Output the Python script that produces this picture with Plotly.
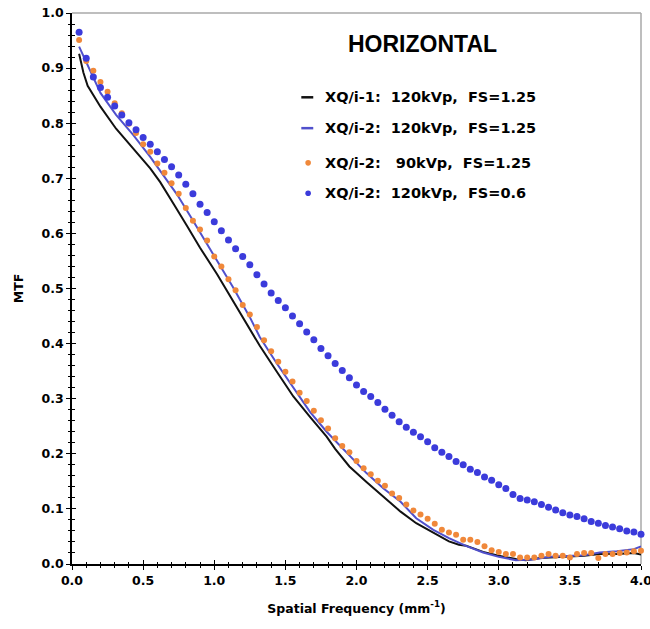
import plotly.graph_objects as go

# --- Measured MTF curves (horizontal direction) ---
# Sampled markers: spatial frequency grid 0.05 .. 4.00 mm^-1
freq_dots = [round(0.05 * i, 2) for i in range(1, 81)]

mtf_i2_90kvp = [
    0.951, 0.913, 0.895, 0.875, 0.857, 0.836, 0.818, 0.799, 0.782, 0.762,
    0.748, 0.727, 0.710, 0.691, 0.672, 0.646, 0.623, 0.607, 0.587, 0.558,
    0.540, 0.517, 0.497, 0.470, 0.453, 0.430, 0.406, 0.386, 0.367, 0.349,
    0.331, 0.311, 0.296, 0.278, 0.261, 0.246, 0.228, 0.214, 0.203, 0.187,
    0.174, 0.163, 0.151, 0.142, 0.128, 0.120, 0.108, 0.097, 0.090, 0.082,
    0.073, 0.062, 0.057, 0.053, 0.044, 0.044, 0.040, 0.032, 0.025, 0.022,
    0.018, 0.018, 0.012, 0.012, 0.012, 0.015, 0.018, 0.015, 0.015, 0.012,
    0.018, 0.020, 0.020, 0.011, 0.018, 0.018, 0.020, 0.021, 0.023, 0.024,
]

mtf_i2_fs06 = [
    0.965, 0.918, 0.884, 0.865, 0.847, 0.831, 0.815, 0.801, 0.788, 0.774,
    0.762, 0.748, 0.734, 0.721, 0.706, 0.689, 0.672, 0.653, 0.638, 0.621,
    0.605, 0.588, 0.572, 0.558, 0.543, 0.525, 0.508, 0.492, 0.478, 0.465,
    0.450, 0.436, 0.421, 0.407, 0.391, 0.378, 0.364, 0.351, 0.338, 0.325,
    0.313, 0.304, 0.293, 0.281, 0.270, 0.258, 0.248, 0.239, 0.231, 0.222,
    0.211, 0.203, 0.195, 0.186, 0.180, 0.172, 0.166, 0.158, 0.152, 0.144,
    0.137, 0.126, 0.119, 0.116, 0.113, 0.108, 0.103, 0.098, 0.093, 0.089,
    0.086, 0.082, 0.077, 0.074, 0.070, 0.067, 0.064, 0.060, 0.058, 0.054,
]

# Continuous curves
freq_i1_120 = [
    0.05, 0.08, 0.11, 0.20, 0.31, 0.43, 0.55, 0.62, 0.67, 0.72, 0.81, 0.90,
    1.02, 1.13, 1.25, 1.32, 1.44, 1.556, 1.673, 1.79, 1.85, 1.95, 2.07, 2.19,
    2.31, 2.42, 2.54, 2.65, 2.72, 2.77, 2.89, 3.00, 3.12, 3.19, 3.29, 3.36,
    3.48, 3.60, 3.71, 3.83, 3.95, 4.00,
]
mtf_i1_120 = [
    0.926, 0.892, 0.868, 0.830, 0.790, 0.754, 0.718, 0.693, 0.673, 0.651, 0.613, 0.574,
    0.526, 0.478, 0.428, 0.396, 0.349, 0.304, 0.267, 0.231, 0.209, 0.177, 0.149, 0.122,
    0.095, 0.074, 0.056, 0.041, 0.035, 0.033, 0.022, 0.015, 0.009, 0.007, 0.011, 0.012,
    0.013, 0.015, 0.018, 0.018, 0.020, 0.017,
]

freq_i2_120 = [
    0.05, 0.10, 0.20, 0.31, 0.43, 0.55, 0.67, 0.74, 0.83, 0.92, 1.02, 1.13,
    1.25, 1.32, 1.44, 1.556, 1.673, 1.79, 1.91, 2.07, 2.19, 2.31, 2.42, 2.54,
    2.65, 2.77, 2.89, 3.00, 3.12, 3.24, 3.36, 3.48, 3.60, 3.71, 3.83, 3.95, 4.00,
]
mtf_i2_120 = [
    0.939, 0.912, 0.855, 0.815, 0.779, 0.739, 0.695, 0.670, 0.632, 0.594, 0.552, 0.503,
    0.448, 0.412, 0.364, 0.319, 0.276, 0.240, 0.208, 0.165, 0.137, 0.113, 0.083, 0.062,
    0.047, 0.033, 0.021, 0.013, 0.007, 0.008, 0.013, 0.015, 0.016, 0.021, 0.023, 0.027, 0.032,
]

x_tick_vals = [0.0, 0.5, 1.0, 1.5, 2.0, 2.5, 3.0, 3.5, 4.0]
x_tick_text = ["0.0", "0.5", "1.0", "1.5", "2.0", "2.5", "3.0", "3.5", "4.0"]
y_tick_vals = [0.0, 0.1, 0.2, 0.3, 0.4, 0.5, 0.6, 0.7, 0.8, 0.9, 1.0]
y_tick_text = ["0.0", "0.1", "0.2", "0.3", "0.4", "0.5", "0.6", "0.7", "0.8", "0.9", "1.0"]

legend_labels = [
    "XQ/i-1:\u00a0\u00a0120kVp,\u00a0\u00a0FS=1.25",
    "XQ/i-2:\u00a0\u00a0120kVp,\u00a0\u00a0FS=1.25",
    "XQ/i-2:\u00a0\u00a0\u00a090kVp,\u00a0\u00a0FS=1.25",
    "XQ/i-2:\u00a0\u00a0120kVp,\u00a0\u00a0FS=0.6",
]

C_BLACK = "#111111"
C_BLUE_LINE = "#5050cc"
C_ORANGE = "#f0883a"
C_BLUE_DOT = "#3b3bdb"

FONT = "DejaVu Sans"

fig = go.Figure()

fig.add_trace(go.Scatter(x=freq_i1_120, y=mtf_i1_120, mode="lines",
                         line=dict(color=C_BLACK, width=2), name=legend_labels[0]))
fig.add_trace(go.Scatter(x=freq_i2_120, y=mtf_i2_120, mode="lines",
                         line=dict(color=C_BLUE_LINE, width=2), name=legend_labels[1]))
fig.add_trace(go.Scatter(x=freq_dots, y=mtf_i2_90kvp, mode="markers",
                         marker=dict(color=C_ORANGE, size=6), cliponaxis=False,
                         name=legend_labels[2]))
fig.add_trace(go.Scatter(x=freq_dots, y=mtf_i2_fs06, mode="markers",
                         marker=dict(color=C_BLUE_DOT, size=7), cliponaxis=False,
                         name=legend_labels[3]))
# helper trace so the overlay axes (inner tick halves) are drawn
fig.add_trace(go.Scatter(x=[0], y=[0], xaxis="x2", yaxis="y2", showlegend=False,
                         mode="markers", marker=dict(opacity=0), hoverinfo="skip"))

tickfont = dict(family=FONT, size=12.5, color="black", weight="bold")

fig.update_layout(
    width=650, height=629,
    margin=dict(l=72, r=9, t=13, b=65, autoexpand=False),
    paper_bgcolor="white", plot_bgcolor="white",
    showlegend=False,
    xaxis=dict(
        range=[0, 4], tickmode="array", tickvals=x_tick_vals, ticktext=x_tick_text,
        ticklabeloverflow="allow", automargin=False,
        ticks="outside", ticklen=4, tickwidth=1.2, tickcolor="black",
        minor=dict(dtick=0.1, tick0=0, ticks="outside", ticklen=2.5, tickwidth=1, tickcolor="black"),
        showline=True, linecolor="black", linewidth=1.5,
        showgrid=False, zeroline=False, tickfont=tickfont,
        title=dict(text="Spatial Frequency (mm<sup>-1</sup>)", standoff=17,
                   font=dict(family=FONT, size=12.5, color="black", weight="bold")),
    ),
    yaxis=dict(
        range=[0, 1], tickmode="array", tickvals=y_tick_vals, ticktext=y_tick_text,
        automargin=False,
        ticks="outside", ticklen=4, tickwidth=1.2, tickcolor="black",
        minor=dict(dtick=0.02, tick0=0, ticks="outside", ticklen=2.5, tickwidth=1, tickcolor="black"),
        showline=True, linecolor="black", linewidth=1.5,
        showgrid=False, zeroline=False, tickfont=tickfont,
        title=dict(text="MTF", standoff=15,
                   font=dict(family=FONT, size=12.5, color="black", weight="bold")),
    ),
    xaxis2=dict(
        overlaying="x", anchor="y", side="bottom", range=[0, 4],
        tickmode="array", tickvals=x_tick_vals, automargin=False,
        ticks="inside", ticklen=4, tickwidth=1.2, tickcolor="black",
        minor=dict(dtick=0.1, tick0=0, ticks="inside", ticklen=2.5, tickwidth=1, tickcolor="black"),
        showticklabels=False, showline=False, showgrid=False, zeroline=False,
    ),
    yaxis2=dict(
        overlaying="y", anchor="x", side="left", range=[0, 1],
        tickmode="array", tickvals=y_tick_vals, automargin=False,
        ticks="inside", ticklen=4, tickwidth=1.2, tickcolor="black",
        minor=dict(dtick=0.02, tick0=0, ticks="inside", ticklen=2.5, tickwidth=1, tickcolor="black"),
        showticklabels=False, showline=False, showgrid=False, zeroline=False,
    ),
)

# light frame on the top and right sides of the plotting area
fig.add_shape(type="line", xref="paper", yref="paper", x0=0, x1=1, y0=1, y1=1,
              line=dict(color="#a8a8a8", width=1.5), layer="below")
fig.add_shape(type="line", xref="paper", yref="paper", x0=1, x1=1, y0=0, y1=1,
              line=dict(color="#a8a8a8", width=1.5), layer="below")

# chart heading
fig.add_annotation(text="HORIZONTAL", xref="paper", yref="paper", x=0.616, y=0.943,
                   showarrow=False, xanchor="center", yanchor="middle",
                   font=dict(family="Liberation Sans", size=23, color="black", weight="bold"))

# key, drawn inside the plotting area
key_rows = [0.847, 0.791, 0.728, 0.673]
key_sym_x0, key_sym_x1, key_dot_x, key_text_x = 0.403, 0.424, 0.415, 0.4417
key_font = dict(family=FONT, size=14.5, color="black", weight="bold")

for i, (label, ky) in enumerate(zip(legend_labels, key_rows)):
    fig.add_annotation(text=label, xref="paper", yref="paper", x=key_text_x, y=ky,
                       showarrow=False, xanchor="left", yanchor="middle", font=key_font)
    if i < 2:
        color = C_BLACK if i == 0 else C_BLUE_LINE
        fig.add_shape(type="line", xref="paper", yref="paper", x0=key_sym_x0, x1=key_sym_x1,
                      y0=ky, y1=ky, line=dict(color=color, width=2.5))
    else:
        color = C_ORANGE if i == 2 else C_BLUE_DOT
        r = 2.8
        fig.add_shape(type="circle", xref="paper", yref="paper",
                      xsizemode="pixel", ysizemode="pixel", xanchor=key_dot_x, yanchor=ky,
                      x0=-r, x1=r, y0=-r, y1=r, fillcolor=color, line=dict(width=0))

fig.write_html("out.html")
